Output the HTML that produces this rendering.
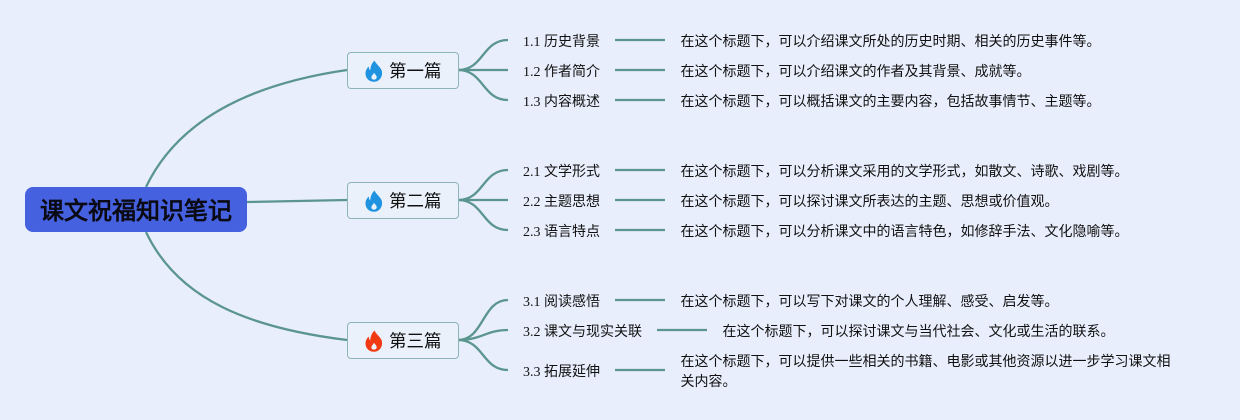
<!DOCTYPE html>
<html lang="zh">
<head>
<meta charset="utf-8">
<title>课文祝福知识笔记</title>
<style>
html,body{margin:0;padding:0}
body{width:1240px;height:420px;background:#e9eefc;overflow:hidden;position:relative;font-family:"Liberation Serif","WenQuanYi Zen Hei",serif;color:#111}
svg{position:absolute;left:0;top:0}
.t{position:absolute;white-space:nowrap;font-size:14px;line-height:20px;height:20px}
.root{position:absolute;left:25px;top:187px;width:222px;height:45px;box-sizing:border-box;background:#4661e0;border-radius:8px;text-align:center;line-height:49px;font-size:24px;font-weight:bold;color:#0a0a14;font-family:"Liberation Sans","WenQuanYi Zen Hei",sans-serif}
.b{position:absolute;left:347px;width:112px;height:37px;box-sizing:border-box;background:#eaf1fb;border:1.500px solid #8db4b8;border-radius:4px;font-size:17.500px;line-height:37px;padding-left:41px}
.b svg{left:17px;top:6.500px}
</style>
</head>
<body>
<svg width="1240" height="420" fill="none" stroke="#5b9590" stroke-width="2.300">
<path d="M146 187C178 120 250 84 347 70"/>
<path d="M247 202L347 200"/>
<path d="M146 232C178 300 250 328 347 340"/>
<path d="M458 70C484 70 482 40 508 40"/><path d="M458 70H508"/><path d="M458 70C484 70 482 100 508 100"/>
<path d="M458 200C484 200 482 170 508 170"/><path d="M458 200H508"/><path d="M458 200C484 200 482 230 508 230"/>
<path d="M458 340C484 340 482 300 508 300"/><path d="M458 340C482 340 486 330 508 330"/><path d="M458 340C484 340 482 370 508 370"/>
<path d="M615 40H665M615 70H665M615 100H665M615 170H665M615 200H665M615 230H665M615 300H665M657 330H707M615 370H665"/>
</svg>

<div class="root">课文祝福知识笔记</div>

<div class="b" style="top:52px"><svg width="18" height="22" viewBox="0 0 18 22"><path fill="#1f93e0" d="M9.500 0.500C10.500 3.500 15 6.500 16.700 10.500C18.300 16.500 14.500 21.800 9 21.800C4 21.800 0.500 18 0.500 13.500C0.500 10.500 2 8 3.800 6.500C3.800 8.500 4.300 9.800 5.300 10.300C5.300 6.500 7 3 9.500 0.500Z"/><path fill="#eaf1fb" d="M9 12.800C10 14.500 12 15.800 11.700 17.600C11.400 19 10.300 19.600 9 19.600C7.500 19.600 6.300 18.700 6.400 17.200C6.600 15.500 8.300 14.500 9 12.800Z"/></svg>第一篇</div>
<div class="b" style="top:182px"><svg width="18" height="22" viewBox="0 0 18 22"><path fill="#1f93e0" d="M9.500 0.500C10.500 3.500 15 6.500 16.700 10.500C18.300 16.500 14.500 21.800 9 21.800C4 21.800 0.500 18 0.500 13.500C0.500 10.500 2 8 3.800 6.500C3.800 8.500 4.300 9.800 5.300 10.300C5.300 6.500 7 3 9.500 0.500Z"/><path fill="#eaf1fb" d="M9 12.800C10 14.500 12 15.800 11.700 17.600C11.400 19 10.300 19.600 9 19.600C7.500 19.600 6.300 18.700 6.400 17.200C6.600 15.500 8.300 14.500 9 12.800Z"/></svg>第二篇</div>
<div class="b" style="top:322px"><svg width="18" height="22" viewBox="0 0 18 22"><path fill="#f23a12" d="M9.500 0.500C10.500 3.500 15 6.500 16.700 10.500C18.300 16.500 14.500 21.800 9 21.800C4 21.800 0.500 18 0.500 13.500C0.500 10.500 2 8 3.800 6.500C3.800 8.500 4.300 9.800 5.300 10.300C5.300 6.500 7 3 9.500 0.500Z"/><path fill="#eaf1fb" d="M9 12.800C10 14.500 12 15.800 11.700 17.600C11.400 19 10.300 19.600 9 19.600C7.500 19.600 6.300 18.700 6.400 17.200C6.600 15.500 8.300 14.500 9 12.800Z"/></svg>第三篇</div>

<div class="t" style="left:523px;top:33px">1.1 历史背景</div>
<div class="t" style="left:523px;top:63px">1.2 作者简介</div>
<div class="t" style="left:523px;top:93px">1.3 内容概述</div>
<div class="t" style="left:523px;top:163px">2.1 文学形式</div>
<div class="t" style="left:523px;top:193px">2.2 主题思想</div>
<div class="t" style="left:523px;top:223px">2.3 语言特点</div>
<div class="t" style="left:523px;top:293px">3.1 阅读感悟</div>
<div class="t" style="left:523px;top:323px">3.2 课文与现实关联</div>
<div class="t" style="left:523px;top:363px">3.3 拓展延伸</div>

<div class="t" style="left:680.500px;top:33px">在这个标题下，可以介绍课文所处的历史时期、相关的历史事件等。</div>
<div class="t" style="left:680.500px;top:63px">在这个标题下，可以介绍课文的作者及其背景、成就等。</div>
<div class="t" style="left:680.500px;top:93px">在这个标题下，可以概括课文的主要内容，包括故事情节、主题等。</div>
<div class="t" style="left:680.500px;top:163px">在这个标题下，可以分析课文采用的文学形式，如散文、诗歌、戏剧等。</div>
<div class="t" style="left:680.500px;top:193px">在这个标题下，可以探讨课文所表达的主题、思想或价值观。</div>
<div class="t" style="left:680.500px;top:223px">在这个标题下，可以分析课文中的语言特色，如修辞手法、文化隐喻等。</div>
<div class="t" style="left:680.500px;top:293px">在这个标题下，可以写下对课文的个人理解、感受、启发等。</div>
<div class="t" style="left:722.500px;top:323px">在这个标题下，可以探讨课文与当代社会、文化或生活的联系。</div>
<div class="t" style="left:680.500px;top:353px">在这个标题下，可以提供一些相关的书籍、电影或其他资源以进一步学习课文相</div>
<div class="t" style="left:680.500px;top:373px">关内容。</div>
</body>
</html>
